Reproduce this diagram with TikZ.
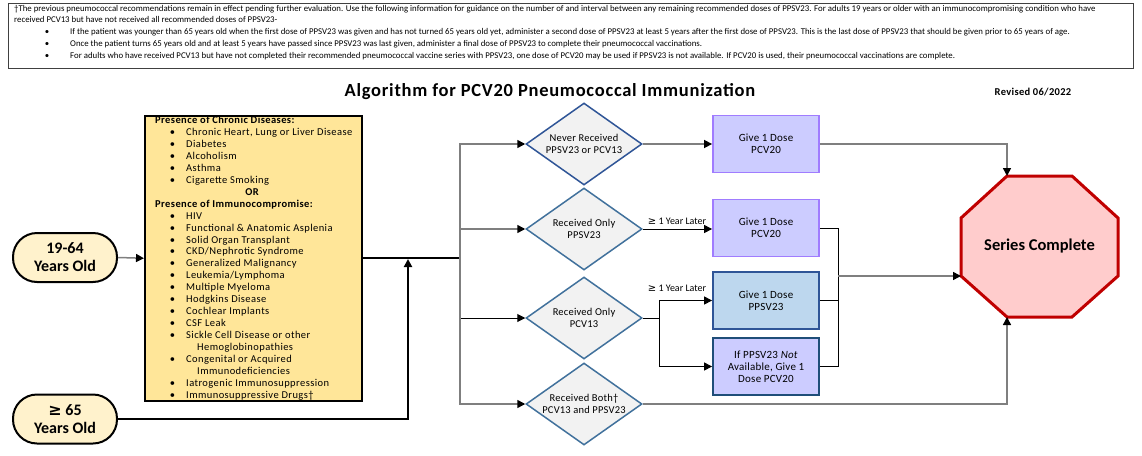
\documentclass[tikz,border=0pt]{standalone}
\usepackage{fontspec}
\setmainfont{Carlito}
\newfontfamily\symfont{DejaVu Sans}
\usetikzlibrary{arrows.meta,shapes.geometric,calc}
\definecolor{ageyel}{HTML}{FFF2CC}
\definecolor{condyel}{HTML}{FFE699}
\definecolor{diagray}{HTML}{F2F2F2}
\definecolor{diablue}{HTML}{41719C}
\definecolor{diablueD}{HTML}{2F5597}
\definecolor{lav}{HTML}{CCCCFF}
\definecolor{lavline}{HTML}{A07CFF}
\definecolor{ltblue}{HTML}{BDD7EE}
\definecolor{dkblue}{HTML}{2F5597}
\definecolor{navy}{HTML}{1F4E79}
\definecolor{pink}{HTML}{FFCCCC}
\definecolor{darkred}{HTML}{C00000}
\definecolor{lgray}{HTML}{7F7F7F}
\definecolor{hdrline}{HTML}{404040}
\newcommand{\gesym}{{\symfont ≥}}
\newcommand{\yfont}{\fontsize{10.5}{12}\selectfont\addfontfeature{LetterSpace=4}}
\begin{document}
\begin{tikzpicture}[x=1pt,y=-1pt,
  hdrtxt/.style={anchor=base west, inner sep=0, font=\fontsize{8.8}{10}\selectfont},
  ytxt/.style={anchor=base west, inner sep=0, font=\yfont},
  ybul/.style={anchor=base, inner sep=0, font=\yfont},
  agebox/.style={draw=black, line width=2pt, fill=ageyel, rounded corners=24pt, minimum width=104pt, minimum height=49pt, align=center, font=\fontsize{16}{18}\selectfont\bfseries, inner sep=0},
  dia/.style={diamond, draw=diablue, line width=1.5pt, fill=diagray, minimum width=116pt, minimum height=82pt, inner sep=0, aspect=1.41, align=center, font=\fontsize{10.5}{12}\selectfont\addfontfeature{LetterSpace=2}},
  dosebox/.style={rectangle, line width=1.8pt, minimum width=106pt, minimum height=57pt, inner sep=0, align=center, font=\fontsize{11}{12}\selectfont\addfontfeature{LetterSpace=2}},
  lbl/.style={inner sep=0, font=\fontsize{10}{11}\selectfont},
  gline/.style={draw=lgray, line width=1.5pt},
  bline/.style={draw=black, line width=1pt},
  kline/.style={draw=black, line width=2pt},
  tip/.style={-{Triangle[length=8pt,width=8pt,color=black]}},
]
\useasboundingbox (0,0) rectangle (1142,455);

% header
\node[draw=hdrline, line width=1pt, minimum width=1125pt, minimum height=65pt, inner sep=0, anchor=north west] (hdr) at (8,3) {};
\node[hdrtxt] (h1) at (14,11.5) {†The previous pneumococcal recommendations remain in effect pending further evaluation. Use the following information for guidance on the number of and interval between any remaining recommended doses of PPSV23. For adults 19 years or older with an immunocompromising condition who have};
\node[hdrtxt] (h2) at (14,22.5) {received PCV13 but have not received all recommended doses of PPSV23-};
\node[hdrtxt, anchor=base] (hb1) at (47,34.5) {\textbullet};
\node[hdrtxt] (h3) at (70,34.5) {If the patient was younger than 65 years old when the first dose of PPSV23 was given and has not turned 65 years old yet, administer a second dose of PPSV23 at least 5 years after the first dose of PPSV23. This is the last dose of PPSV23 that should be given prior to 65 years of age.};
\node[hdrtxt, anchor=base] (hb2) at (47,46.5) {\textbullet};
\node[hdrtxt] (h4) at (70,46.5) {Once the patient turns 65 years old and at least 5 years have passed since PPSV23 was last given, administer a final dose of PPSV23 to complete their pneumococcal vaccinations.};
\node[hdrtxt, anchor=base] (hb3) at (47,58.5) {\textbullet};
\node[hdrtxt] (h5) at (70,58.5) {For adults who have received PCV13 but have not completed their recommended pneumococcal vaccine series with PPSV23, one dose of PCV20 may be used if PPSV23 is not available. If PCV20 is used, their pneumococcal vaccinations are complete.};

% title
\node[inner sep=0, font=\fontsize{18.5}{20}\selectfont\bfseries\addfontfeature{LetterSpace=4}] (title) at (550,92) {Algorithm for PCV20 Pneumococcal Immunization};
\node[inner sep=0, font=\fontsize{10.5}{11}\selectfont\bfseries\addfontfeature{LetterSpace=3}] (rev) at (1033,92) {Revised 06/2022};

% conditions box
\node[draw=black, line width=1.5pt, fill=condyel, minimum width=217pt, minimum height=285pt, inner sep=0, anchor=north west] (cond) at (144,115) {};
\node[ytxt, font=\yfont\bfseries] (c0) at (155,123.5) {Presence of Chronic Diseases:};
\node[ybul, font=\yfont\bfseries] (c6) at (252,{123.5+11.95*6}) {OR};
\node[ytxt, font=\yfont\bfseries] (c7) at (155,{123.5+11.95*7}) {Presence of Immunocompromise:};
\foreach \i/\t in {1/{Chronic Heart, Lung or Liver Disease}, 2/{Diabetes}, 3/{Alcoholism}, 4/{Asthma}, 5/{Cigarette Smoking}, 8/{HIV}, 9/{Functional \& Anatomic Asplenia}, 10/{Solid Organ Transplant}, 11/{CKD/Nephrotic Syndrome}, 12/{Generalized Malignancy}, 13/{Leukemia/Lymphoma}, 14/{Multiple Myeloma}, 15/{Hodgkins Disease}, 16/{Cochlear Implants}, 17/{CSF Leak}, 18/{Sickle Cell Disease or other}, 20/{Congenital or Acquired}, 22/{Iatrogenic Immunosuppression}, 23/{Immunosuppressive Drugs†}}{
  \node[ybul] (cb\i) at (172.5,{123.5+11.95*\i}) {\textbullet};
  \node[ytxt] (c\i) at (186,{123.5+11.95*\i}) {\t};
}
\node[ytxt] (c19) at (197,{123.5+11.95*19}) {Hemoglobinopathies};
\node[ytxt] (c21) at (197,{123.5+11.95*21}) {Immunodeficiencies};

% age boxes
\node[agebox] (age1) at (65,257.5) {19-64\\Years Old};
\node[agebox] (age2) at (65,419) {\gesym{} 65\\Years Old};

% diamonds
\node[dia, draw=diablueD] (d1) at (584,144) {Never Received\\PPSV23 or PCV13};
\node[dia] (d2) at (584,229) {Received Only\\PPSV23};
\node[dia] (d3) at (584,318) {Received Only\\PCV13};
\node[dia] (d4) at (584,404) {Received Both†\\PCV13 and PPSV23};

% dose boxes
\node[dosebox, draw=lavline, fill=lav] (b1) at (766,144) {Give 1 Dose\\PCV20};
\node[dosebox, draw=lavline, fill=lav] (b2) at (766,228) {Give 1 Dose\\PCV20};
\node[dosebox, draw=dkblue, fill=ltblue] (b3) at (766,300.5) {Give 1 Dose\\PPSV23};
\node[dosebox, draw=navy, fill=lav] (b4) at (766,366.5) {If PPSV23 \textit{Not}\\Available, Give 1\\Dose PCV20};

% octagon
\draw[draw=darkred, line width=3pt, fill=pink, line join=miter] (1007,176) -- (1072,176) -- (1118,218) -- (1118,276) -- (1072,317) -- (1007,317) -- (961,276) -- (961,218) -- cycle;
\node[inner sep=0, font=\fontsize{16.5}{18}\selectfont\bfseries] (oct) at (1039.5,246.5) {Series Complete};
\coordinate (octT) at (1007,176);
\coordinate (octB) at (1007,317);
\coordinate (octL) at (961,276);

% junction coordinates
\coordinate (j1) at (408,258);
\coordinate (bus) at (460,258);
\coordinate (s3) at (659,318);
\coordinate (m) at (838,276);

% connectors
\draw[gline, tip] (age1.east) -- (cond.west);
\draw[kline] (cond.east |- bus) -- (bus);
\draw[kline, tip] (age2.east) -| ($(j1)+(0,1)$);
\draw[gline] ($(bus)+(0,-114.75)$) -- ($(bus)+(0,146.75)$);
\draw[gline, tip] (bus) |- (d1.west);
\draw[gline, tip] (bus) |- (d2.west);
\draw[bline, tip] (bus) |- (d3.west);
\draw[gline, tip] (bus) |- (d4.west);
\draw[gline, tip] (d1.east) -- (b1.west);
\draw[bline, tip] (d2.east) -- (b2.west |- d2.east);
\node[lbl] (l1) at (677,221) {\gesym{} 1 Year Later};
\draw[bline] (d3.east) -- (s3);
\draw[bline, tip] (s3) |- (b3.west);
\draw[bline, tip] (s3) |- (b4.west);
\node[lbl] (l2) at (677,288) {\gesym{} 1 Year Later};
\draw[gline, tip] (b1.east) -| (octT);
\draw[bline] (b2.east) -| (m);
\draw[bline] (b3.east) -| (m);
\draw[bline] (b4.east) -| (m);
\draw[gline, tip] (m) -- (octL);
\draw[gline, tip] (d4.east) -| (octB);
\end{tikzpicture}
\end{document}
